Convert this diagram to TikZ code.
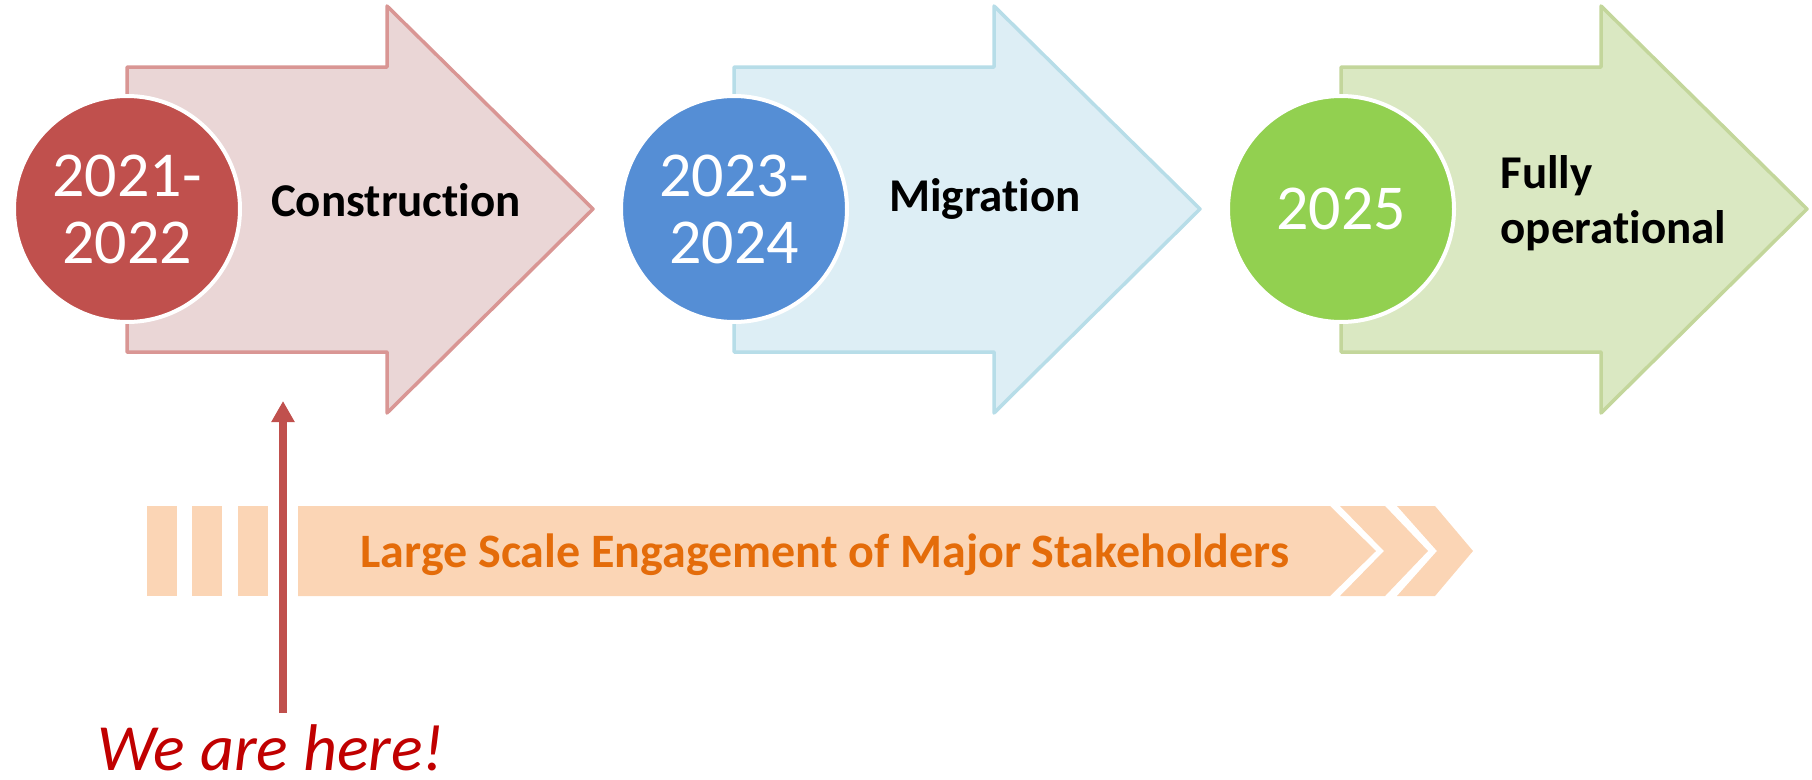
\documentclass[tikz,border=0pt]{standalone}
\usepackage{fontspec}
\setmainfont[Ligatures=NoCommon]{Carlito}
\usepackage{tikz}
\usetikzlibrary{arrows.meta}
\definecolor{rougeA}{HTML}{C0504D}
\definecolor{roseclair}{HTML}{EAD6D6}
\definecolor{rosebord}{HTML}{D99694}
\definecolor{bleuA}{HTML}{558ED5}
\definecolor{bleuclair}{HTML}{DDEEF5}
\definecolor{bleubord}{HTML}{B7DDE8}
\definecolor{vertA}{HTML}{92D050}
\definecolor{vertclair}{HTML}{DAE8C2}
\definecolor{vertbord}{HTML}{C3D69B}
\definecolor{orangeclair}{HTML}{FBD5B5}
\definecolor{orangetexte}{HTML}{E46C0A}
\definecolor{rougefonce}{HTML}{C00000}

\begin{document}
\begin{tikzpicture}[x=1pt, y=-1pt,
    phase/.style={line width=3.5pt, line join=round},
    yearball/.style={circle, draw=white, line width=4pt, minimum size=226pt, inner sep=0pt,
      text=white, align=center, font=\fontsize{64}{67}\selectfont},
    phaselabel/.style={anchor=base, font=\fontsize{47}{55}\selectfont\bfseries}]
    \useasboundingbox (0,0) rectangle (1812,779);

    % Flèche 1 (construction)
    \filldraw[phase, fill=roseclair, draw=rosebord] (127,67) -- (387,67) -- (387,6) -- (593,209) -- (387,413) -- (387,352) -- (127,352) -- cycle;
    \node[yearball, fill=rougeA] (an1) at (127,209) {2021-\\2022};
    \node[phaselabel] (etape1) at (396,216) {Construction};

    % Flèche 2 (migration)
    \filldraw[phase, fill=bleuclair, draw=bleubord] (734,67) -- (994,67) -- (994,6) -- (1200,209) -- (994,413) -- (994,352) -- (734,352) -- cycle;
    \node[yearball, fill=bleuA] (an2) at (734,209) {2023-\\2024};
    \node[phaselabel] (etape2) at (985,211) {Migration};

    % Flèche 3 (opérationnel)
    \filldraw[phase, fill=vertclair, draw=vertbord] (1341,67) -- (1601,67) -- (1601,6) -- (1807,209) -- (1601,413) -- (1601,352) -- (1341,352) -- cycle;
    \node[yearball, fill=vertA] (an3) at (1341,209) {2025};
    \node[phaselabel, anchor=base west, align=left] (etape3) at (1497,243) {Fully\\operational};

    % Barre engagement
    \fill[orangeclair] (147,506) rectangle (177,596);
    \fill[orangeclair] (192,506) rectangle (222,596);
    \fill[orangeclair] (238,506) rectangle (268,596);
    \fill[orangeclair] (298,506) -- (1330,506) -- (1376,551) -- (1330,596) -- (298,596) -- cycle;
    \fill[orangeclair] (1340,506) -- (1385,506) -- (1428,551) -- (1385,596) -- (1340,596) -- (1384,551) -- cycle;
    \fill[orangeclair] (1397,506) -- (1435,506) -- (1473,551) -- (1435,596) -- (1397,596) -- (1437,551) -- cycle;
    \node[anchor=base, text=orangetexte, font=\fontsize{48}{54}\selectfont\bfseries] (engagement) at (825,567) {Large Scale Engagement of Major Stakeholders};

    % Nous sommes ici
    \node[anchor=base, inner sep=0pt, text=rougefonce, font=\fontsize{66}{70}\selectfont\itshape] (ici) at (271,770) {We are here!};
    \coordinate (pied) at (283,713);
    \coordinate (pointe) at (283,401);
    \draw[rougeA, line width=7.5pt, -{Triangle[width=22pt, length=21pt]}] (pied) -- (pointe);
\end{tikzpicture}
\end{document}
